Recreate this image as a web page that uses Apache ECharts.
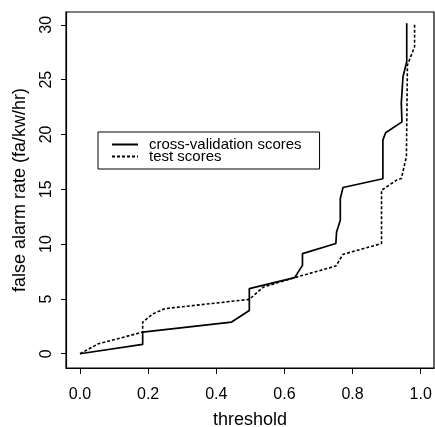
<!DOCTYPE html>
<html>
<head>
<meta charset="utf-8">
<script src="https://cdn.jsdelivr.net/npm/echarts@6/dist/echarts.min.js"></script>
<style>
html,body{margin:0;padding:0;background:#fff;}
#chart{width:435px;height:427px;}
</style>
</head>
<body>
<div id="chart"></div>
<script>
// Data
const cvThreshold = [0, 0.184, 0.184, 0.445, 0.497, 0.497, 0.630, 0.653, 0.653, 0.751, 0.753, 0.764, 0.764, 0.772, 0.889, 0.889, 0.897, 0.945, 0.943, 0.948, 0.959, 0.959];
const cvRate      = [0, 0.85, 1.97, 2.89, 3.95, 5.94, 6.94, 8.06, 9.13, 10.05, 11.1, 12.17, 14.16, 15.16, 15.96, 19.48, 20.15, 21.15, 22.86, 25.26, 26.63, 30.14];
const testThreshold = [0, 0.054, 0.184, 0.184, 0.215, 0.249, 0.497, 0.538, 0.630, 0.751, 0.772, 0.885, 0.885, 0.929, 0.943, 0.958, 0.961, 0.982, 0.982];
const testRate      = [0, 0.91, 1.97, 2.89, 3.65, 4.11, 4.96, 6.08, 6.94, 8.0, 9.07, 10.05, 14.91, 15.83, 15.98, 17.95, 26.33, 28.0, 30.14];
const xTicks = [0, 0.2, 0.4, 0.6, 0.8, 1.0];
const yTicks = [0, 5, 10, 15, 20, 25, 30];
const seriesNames = ['cross-validation scores', 'test scores'];
const xName = 'threshold';
const yName = 'false alarm rate (fa/kw/hr)';

const cvData = cvThreshold.map((x, i) => [x, cvRate[i]]);
const testData = testThreshold.map((x, i) => [x, testRate[i]]);

const FONT = '"Liberation Sans", Arial, Helvetica, sans-serif';
const chart = echarts.init(document.getElementById('chart'), null, {renderer: 'canvas'});
chart.setOption({
  animation: false,
  backgroundColor: '#fff',
  textStyle: {fontFamily: FONT, color: '#000'},
  grid: {left: 66, top: 12, right: 1, bottom: 59, show: true, borderColor: '#000', borderWidth: 1.2,
         containLabel: false, outerBoundsMode: 'none'},
  legend: {
    orient: 'vertical',
    left: 98, top: 132,
    padding: [5, 18, 5, 13],
    borderColor: '#000', borderWidth: 1,
    itemWidth: 26, itemHeight: 8, itemGap: -3,
    itemStyle: {opacity: 0, borderWidth: 0},
    textStyle: {fontFamily: FONT, fontSize: 15, color: '#000', lineHeight: 11.5, padding: [0, 0, 0, 6]},
    data: seriesNames
  },
  xAxis: {
    type: 'value', min: -0.041, max: 1.039,
    name: xName, nameLocation: 'middle', nameGap: 43,
    nameTextStyle: {fontFamily: FONT, fontSize: 18, color: '#000'},
    axisLine: {show: true, onZero: false, lineStyle: {color: '#000', width: 1.2}},
    splitLine: {show: false},
    axisTick: {show: true, inside: false, length: 6, customValues: xTicks, lineStyle: {color: '#000', width: 1}},
    axisLabel: {customValues: xTicks, formatter: v => v.toFixed(1), fontSize: 16, color: '#000', margin: 19, fontFamily: FONT}
  },
  yAxis: {
    type: 'value', min: -1.3, max: 31.17,
    name: yName, nameLocation: 'middle', nameGap: 37, nameRotate: 90,
    nameTextStyle: {fontFamily: FONT, fontSize: 18, color: '#000'},
    axisLine: {show: true, onZero: false, lineStyle: {color: '#000', width: 1.2}},
    splitLine: {show: false},
    axisTick: {show: true, inside: false, length: 5, customValues: yTicks, lineStyle: {color: '#000', width: 1}},
    axisLabel: {customValues: yTicks, rotate: 90, fontSize: 16, color: '#000', margin: 11, fontFamily: FONT}
  },
  series: [
    {name: seriesNames[0], type: 'line', data: cvData, symbol: 'none', color: '#000',
     lineStyle: {color: '#000', width: 1.7, type: 'solid'}},
    {name: seriesNames[1], type: 'line', data: testData, symbol: 'none', color: '#000',
     lineStyle: {color: '#000', width: 1.6, type: [3, 2]}}
  ]
});
</script>
</body>
</html>
